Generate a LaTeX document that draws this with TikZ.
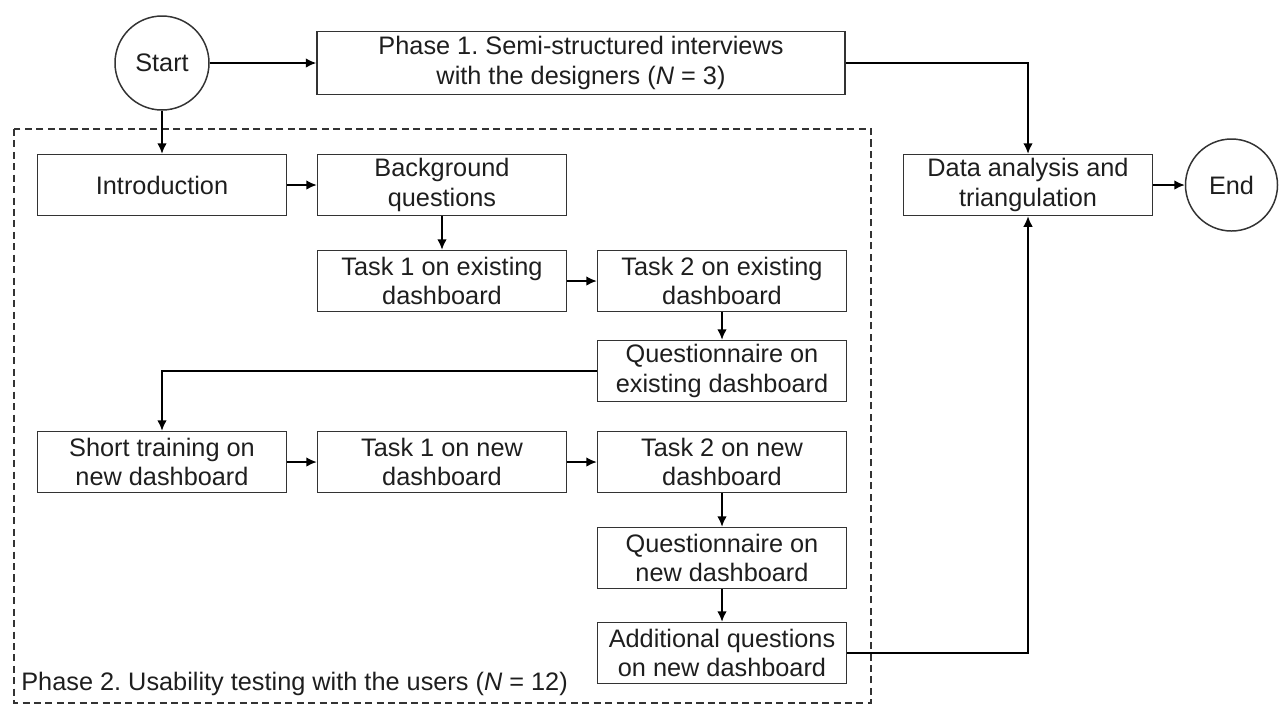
\documentclass[tikz,border=0pt]{standalone}
\usepackage{fontspec}
\setmainfont{Liberation Sans}
\usepackage{xcolor}
\usetikzlibrary{arrows.meta}

\definecolor{linegray}{HTML}{333333}
\definecolor{textgray}{HTML}{1E1E1E}
\frenchspacing

\begin{document}
\begin{tikzpicture}[
    >={Latex[length=2.1mm,width=1.9mm]},
    stage/.style={draw=linegray, rectangle, line width=0.85pt, minimum width=4.98cm, minimum height=1.22cm, align=center, text=textgray, font=\fontsize{14.4pt}{17pt}\selectfont, inner sep=0pt},
    terminal/.style={draw=linegray, circle, line width=0.85pt, minimum size=1.88cm, text=textgray, font=\fontsize{14.4pt}{17pt}\selectfont, inner sep=0pt},
    flow/.style={->, draw=black, line width=0.85pt}
]
    \useasboundingbox (0,0) rectangle (25.6,-14.1);

    % Nodes
    \node[terminal] (start) at (3.24,-1.26) {Start};
    \node[stage, right of=start, node distance=8.38cm, minimum width=10.56cm, minimum height=1.26cm] (phase1) {Phase 1. Semi-structured interviews\\with the designers ({\itshape N} = 3)};
    \node[stage, below of=start, node distance=2.44cm] (intro) {Introduction};
    \node[stage, right of=intro, node distance=5.6cm] (background) {Background\\questions};
    \node[stage, below of=background, node distance=1.92cm] (taskoldA) {Task 1 on existing\\dashboard};
    \node[stage, right of=taskoldA, node distance=5.6cm] (taskoldB) {Task 2 on existing\\dashboard};
    \node[stage, below of=taskoldB, node distance=1.8cm] (questold) {Questionnaire on\\existing dashboard};
    \node[stage, below of=intro, node distance=5.54cm] (training) {Short training on\\new dashboard};
    \node[stage, right of=training, node distance=5.6cm] (tasknewA) {Task 1 on new\\dashboard};
    \node[stage, right of=tasknewA, node distance=5.6cm] (tasknewB) {Task 2 on new\\dashboard};
    \node[stage, below of=tasknewB, node distance=1.92cm] (questnew) {Questionnaire on\\new dashboard};
    \node[stage, below of=questnew, node distance=1.9cm] (additional) {Additional questions\\on new dashboard};
    \node[stage, right of=background, node distance=11.72cm] (analysis) {Data analysis and\\triangulation};
    \node[terminal, right of=analysis, node distance=4.07cm, minimum size=1.84cm] (end) {End};

    % Phase 2 frame
    \draw[linegray, line width=0.6pt, dash pattern=on 4pt off 2.5pt] (0.28,-2.58) coordinate (framenw) rectangle (17.42,-14.06) coordinate (framese);
    \node[anchor=base west, inner sep=0pt, text=textgray, font=\fontsize{14.4pt}{17pt}\selectfont] (phase2) at (0.42,-13.8) {Phase 2. Usability testing with the users ({\itshape N} = 12)};

    % Arrows
    \draw[flow] (start) -- (phase1);
    \draw[flow] (start) -- (intro);
    \draw[flow] (intro) -- (background);
    \draw[flow] (background) -- (taskoldA);
    \draw[flow] (taskoldA) -- (taskoldB);
    \draw[flow] (taskoldB) -- (questold);
    \draw[flow] (questold.west) -| (training.north);
    \draw[flow] (training) -- (tasknewA);
    \draw[flow] (tasknewA) -- (tasknewB);
    \draw[flow] (tasknewB) -- (questnew);
    \draw[flow] (questnew) -- (additional);
    \draw[flow] (phase1.east) -| (analysis.north);
    \draw[flow] (additional.east) -| (analysis.south);
    \draw[flow] (analysis) -- (end);
\end{tikzpicture}
\end{document}
